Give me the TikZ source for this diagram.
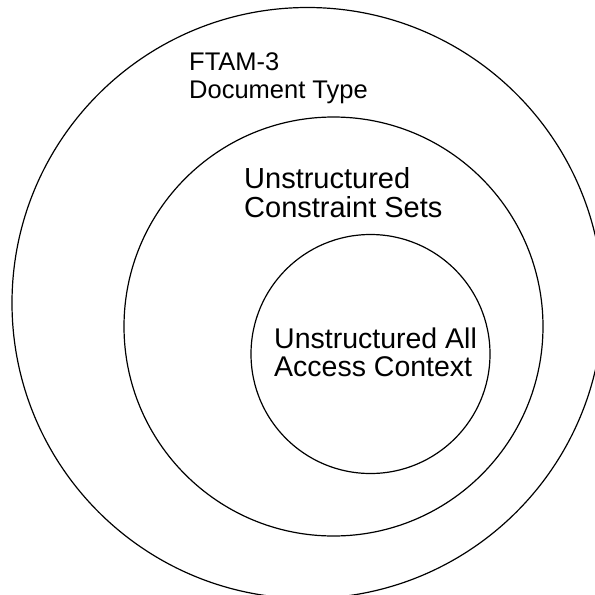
\documentclass[tikz,border=0pt]{standalone}
\usepackage{fontspec}
\setmainfont{Liberation Sans}
\tikzset{
  ring/.style={circle, draw=black, line width=1.2pt, inner sep=0pt},
  caption/.style={anchor=north west, align=left, inner sep=0pt}
}
\begin{document}
\begin{tikzpicture}[x=1pt,y=-1pt]
  \useasboundingbox (0,0) rectangle (595,595);
  \clip (0,0) rectangle (595,595);
  % three nested sets
  \node[ring, minimum size=591pt] (outer) at (307.5,303) {};
  \node[ring, minimum size=419pt] (middle) at (333.5,326.5) {};
  \node[ring, minimum size=239pt] (inner) at (370.5,354) {};
  % labels
  \node[caption, font=\fontsize{25.5}{28.3}\selectfont] (outerlabel) at (189,52)
    {FTAM-3\\Document Type};
  \node[caption, font=\fontsize{29}{29.5}\selectfont] (middlelabel) at (244,167)
    {Unstructured\\Constraint Sets};
  \node[caption, font=\fontsize{28.5}{28}\selectfont] (innerlabel) at (274,328)
    {Unstructured All\\Access Context};
\end{tikzpicture}
\end{document}
